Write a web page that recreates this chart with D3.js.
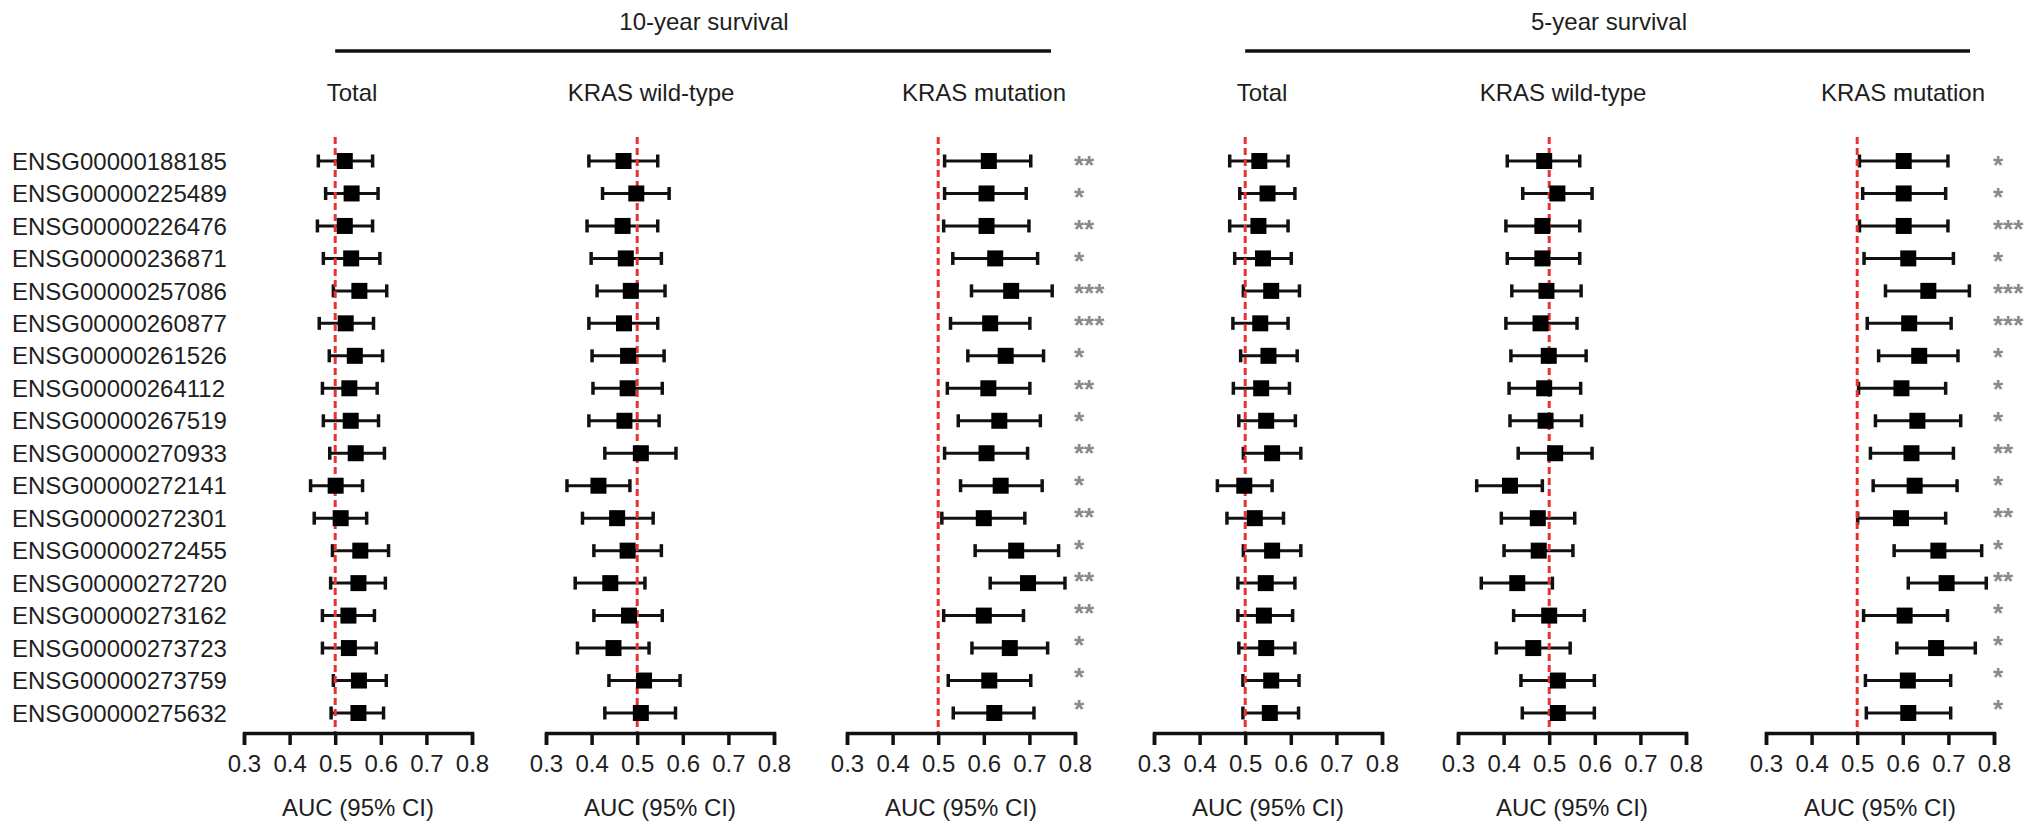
<!DOCTYPE html>
<html>
<head>
<meta charset="utf-8">
<script src="https://cdn.jsdelivr.net/npm/d3@7"></script>
<style>
  html, body { margin: 0; padding: 0; background: #fff; }
  svg { display: block; }
  text { font-family: "Liberation Sans", Arial, Helvetica, sans-serif; fill: #1e1e1e; }
</style>
</head>
<body>
<svg id="chart" width="2032" height="834"></svg>
<script>
// ---------- DATA ----------
const genes = ["ENSG00000188185","ENSG00000225489","ENSG00000226476","ENSG00000236871","ENSG00000257086","ENSG00000260877","ENSG00000261526","ENSG00000264112","ENSG00000267519","ENSG00000270933","ENSG00000272141","ENSG00000272301","ENSG00000272455","ENSG00000272720","ENSG00000273162","ENSG00000273723","ENSG00000273759","ENSG00000275632"];

const groupTitles = ["10-year survival", "5-year survival"];
const panelTitles = ["Total", "KRAS wild-type", "KRAS mutation"];
const tickValues = [0.3, 0.4, 0.5, 0.6, 0.7, 0.8];
const axisTitle = "AUC (95% CI)";

// 10-year, Total
const y10TotalAUC = [0.521,0.536,0.521,0.535,0.553,0.523,0.543,0.531,0.534,0.545,0.501,0.512,0.555,0.551,0.529,0.530,0.552,0.551];
const y10TotalLo  = [0.463,0.479,0.461,0.474,0.496,0.465,0.487,0.472,0.474,0.488,0.446,0.454,0.494,0.490,0.472,0.472,0.496,0.491];
const y10TotalHi  = [0.582,0.594,0.582,0.598,0.613,0.584,0.604,0.592,0.595,0.608,0.560,0.569,0.617,0.610,0.586,0.590,0.612,0.606];
// 10-year, KRAS wild-type
const y10WtAUC = [0.470,0.498,0.468,0.475,0.486,0.471,0.480,0.479,0.472,0.508,0.415,0.456,0.479,0.441,0.482,0.448,0.515,0.508];
const y10WtLo  = [0.394,0.424,0.390,0.399,0.412,0.394,0.401,0.403,0.394,0.429,0.346,0.380,0.405,0.364,0.405,0.369,0.438,0.429];
const y10WtHi  = [0.545,0.570,0.545,0.553,0.561,0.545,0.559,0.555,0.548,0.585,0.484,0.535,0.553,0.517,0.555,0.526,0.594,0.584];
// 10-year, KRAS mutation
const y10MutAUC = [0.611,0.606,0.606,0.625,0.660,0.614,0.648,0.610,0.634,0.606,0.637,0.600,0.671,0.697,0.600,0.657,0.612,0.623];
const y10MutLo  = [0.514,0.514,0.512,0.532,0.573,0.527,0.565,0.520,0.544,0.514,0.549,0.508,0.581,0.614,0.512,0.574,0.522,0.533];
const y10MutHi  = [0.703,0.693,0.699,0.718,0.750,0.701,0.731,0.701,0.724,0.696,0.728,0.690,0.764,0.778,0.687,0.740,0.703,0.710];
const y10MutStars = ["**","*","**","*","***","***","*","**","*","**","*","**","*","**","**","*","*","*"];
// 5-year, Total
const y5TotalAUC = [0.531,0.549,0.529,0.539,0.557,0.533,0.551,0.535,0.546,0.559,0.498,0.521,0.559,0.545,0.541,0.546,0.557,0.554];
const y5TotalLo  = [0.466,0.488,0.466,0.477,0.496,0.473,0.490,0.474,0.486,0.496,0.439,0.460,0.496,0.484,0.484,0.486,0.495,0.495];
const y5TotalHi  = [0.594,0.609,0.594,0.601,0.619,0.594,0.614,0.597,0.610,0.622,0.559,0.584,0.622,0.609,0.604,0.609,0.618,0.617];
// 5-year, KRAS wild-type
const y5WtAUC = [0.489,0.518,0.485,0.485,0.494,0.481,0.499,0.489,0.492,0.513,0.414,0.475,0.477,0.430,0.500,0.465,0.519,0.519];
const y5WtLo  = [0.408,0.442,0.405,0.408,0.418,0.405,0.416,0.412,0.414,0.432,0.341,0.395,0.401,0.351,0.422,0.384,0.438,0.441];
const y5WtHi  = [0.567,0.594,0.567,0.567,0.570,0.561,0.581,0.569,0.571,0.594,0.485,0.556,0.552,0.507,0.577,0.546,0.599,0.599];
// 5-year, KRAS mutation
const y5MutAUC = [0.602,0.602,0.602,0.612,0.656,0.614,0.636,0.597,0.632,0.619,0.626,0.596,0.678,0.696,0.604,0.673,0.611,0.612];
const y5MutLo  = [0.505,0.512,0.505,0.515,0.562,0.522,0.547,0.503,0.540,0.529,0.535,0.501,0.581,0.612,0.514,0.587,0.518,0.520];
const y5MutHi  = [0.699,0.694,0.699,0.711,0.746,0.706,0.721,0.694,0.727,0.711,0.719,0.694,0.773,0.783,0.698,0.759,0.705,0.705];
const y5MutStars = ["*","*","***","*","***","***","*","*","*","**","*","**","*","**","*","*","*","*"];

// ---------- PANELS (data + layout) ----------
const panels = [
  { title: panelTitles[0], auc: y10TotalAUC, lo: y10TotalLo, hi: y10TotalHi, stars: null,        left: 244,  titleDx: -6 },
  { title: panelTitles[1], auc: y10WtAUC,    lo: y10WtLo,    hi: y10WtHi,    stars: null,        left: 546,  titleDx: -9 },
  { title: panelTitles[2], auc: y10MutAUC,   lo: y10MutLo,   hi: y10MutHi,   stars: y10MutStars, left: 847,  titleDx: 23 },
  { title: panelTitles[0], auc: y5TotalAUC,  lo: y5TotalLo,  hi: y5TotalHi,  stars: null,        left: 1154, titleDx: -6 },
  { title: panelTitles[1], auc: y5WtAUC,     lo: y5WtLo,     hi: y5WtHi,     stars: null,        left: 1458, titleDx: -9 },
  { title: panelTitles[2], auc: y5MutAUC,    lo: y5MutLo,    hi: y5MutHi,    stars: y5MutStars,  left: 1766, titleDx: 23 }
];
const panelWidth = 228;
const FONT = 24;

const svg = d3.select("#chart");
const y = d3.scalePoint().domain(genes).range([161, 713]);
const yStar = d3.scalePoint().domain(genes).range([159, 703]);
const axisY = 733;

// gene labels
svg.append("g").selectAll("text").data(genes).join("text")
  .attr("x", 12).attr("y", d => y(d) + FONT * 0.36)
  .attr("font-size", FONT).text(d => d);

const xScales = panels.map(p => d3.scaleLinear().domain([0.3, 0.8]).range([p.left, p.left + panelWidth]));

panels.forEach((p, pi) => {
  const x = xScales[pi];
  const g = svg.append("g");
  const rows = genes.map((gname, i) => ({ gene: gname, auc: p.auc[i], lo: p.lo[i], hi: p.hi[i], star: p.stars ? p.stars[i] : null }));

  // panel title
  g.append("text").attr("x", (x(0.3) + x(0.8)) / 2 + p.titleDx).attr("y", 101)
    .attr("text-anchor", "middle").attr("font-size", FONT).text(p.title);

  // whiskers
  g.append("g").selectAll("line").data(rows).join("line")
    .attr("x1", d => x(d.lo)).attr("x2", d => x(d.hi))
    .attr("y1", d => y(d.gene)).attr("y2", d => y(d.gene))
    .attr("stroke", "#111").attr("stroke-width", 3);
  // caps
  ["lo", "hi"].forEach(k => {
    g.append("g").selectAll("line").data(rows).join("line")
      .attr("x1", d => x(d[k])).attr("x2", d => x(d[k]))
      .attr("y1", d => y(d.gene) - 6.5).attr("y2", d => y(d.gene) + 6.5)
      .attr("stroke", "#111").attr("stroke-width", 3.5);
  });

  // reference line at 0.5
  g.append("line")
    .attr("x1", x(0.5)).attr("x2", x(0.5)).attr("y1", 137).attr("y2", axisY)
    .attr("stroke", "#ec2f2f").attr("stroke-width", 3).attr("stroke-dasharray", "7,4");

  // point boxes
  const bs = 16;
  g.append("g").selectAll("rect").data(rows).join("rect")
    .attr("x", d => x(d.auc) - bs / 2).attr("y", d => y(d.gene) - bs / 2)
    .attr("width", bs).attr("height", bs).attr("fill", "#000");

  // significance stars
  if (p.stars) {
    g.append("g").selectAll("text").data(rows).join("text")
      .attr("x", x(0.8) - 1).attr("y", d => yStar(d.gene) + 15)
      .attr("font-size", 26).attr("font-weight", "bold").style("fill", "#8a8a8a").text(d => d.star);
  }

  // axis
  const ax = g.append("g").attr("transform", `translate(0,${axisY})`)
    .call(d3.axisBottom(x).tickValues(tickValues).tickFormat(d3.format(".1f"))
      .tickSize(12).tickSizeOuter(12).tickPadding(10));
  ax.select(".domain").attr("stroke", "#111").attr("stroke-width", 3.5);
  ax.selectAll(".tick line").attr("stroke", "#111").attr("stroke-width", 3.5);
  ax.selectAll(".tick text").attr("font-size", FONT)
    .attr("font-family", "'Liberation Sans', Arial, Helvetica, sans-serif").style("fill", "#1e1e1e");

  // axis title
  g.append("text").attr("x", (x(0.3) + x(0.8)) / 2).attr("y", 816)
    .attr("text-anchor", "middle").attr("font-size", FONT).text(axisTitle);
});

// group headers
[[0, 2, 704], [3, 5, 1609]].forEach(([a, b, cx], gi) => {
  const x1 = xScales[a](0.5), x2 = xScales[b](0.8) - 24;
  svg.append("line").attr("x1", x1).attr("x2", x2).attr("y1", 51).attr("y2", 51)
    .attr("stroke", "#111").attr("stroke-width", 3.5);
  svg.append("text").attr("x", cx).attr("y", 30).attr("text-anchor", "middle")
    .attr("font-size", FONT).text(groupTitles[gi]);
});
</script>
</body>
</html>
